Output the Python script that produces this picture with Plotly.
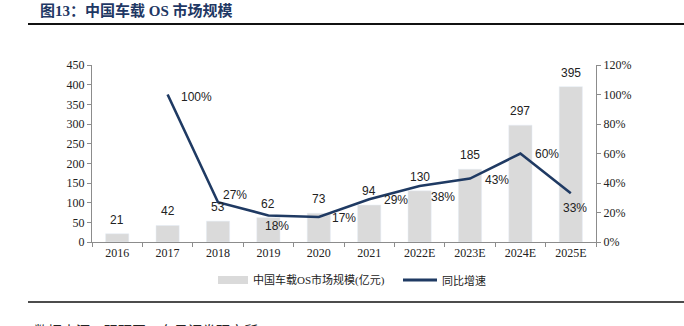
import plotly.graph_objects as go

# 中国车载OS市场规模 (亿元) 与同比增速
years = ["2016", "2017", "2018", "2019", "2020", "2021", "2022E", "2023E", "2024E", "2025E"]
market_size = [21, 42, 53, 62, 73, 94, 130, 185, 297, 395]
growth_years = ["2017", "2018", "2019", "2020", "2021", "2022E", "2023E", "2024E", "2025E"]
growth_pct = [100, 27, 18, 17, 29, 38, 43, 60, 33]
left_ticks = [0, 50, 100, 150, 200, 250, 300, 350, 400, 450]
right_ticks = [0, 20, 40, 60, 80, 100, 120]

W, H = 684, 326
ML, MR, MT, MB = 92, 88, 65, 84
PW, PH = W - ML - MR, H - MT - MB

def px(x):
    return (x - ML) / PW

def py(y):
    return (H - MB - y) / PH

NAVY = "#1f3a63"
BAR = "#dadada"
SERIF = "Liberation Serif, Times New Roman, serif"
SANS = "Liberation Sans, Arial, sans-serif"
CJK = "Liberation Serif, Noto Sans CJK SC, serif"

# pixel offsets of each growth label from its point (x right, y up)
label_shift = [(29, -2), (17, 7), (9, -11), (25, -1), (27, -1), (23, -11), (27, -1), (27, 0), (4, -15)]

fig = go.Figure()
fig.add_trace(go.Bar(
    x=years, y=market_size, width=0.46, marker_color=BAR,
    showlegend=False,
))
fig.add_trace(go.Scatter(
    x=growth_years, y=growth_pct, yaxis="y2", mode="lines",
    line=dict(color=NAVY, width=2.6), cliponaxis=False,
    showlegend=False,
))

axis_line = dict(showline=True, linecolor="#8c8c8c", linewidth=1,
                 ticks="outside", ticklen=4, tickcolor="#8c8c8c",
                 showgrid=False, zeroline=False)

fig.update_layout(
    width=W, height=H, margin=dict(l=ML, r=MR, t=MT, b=MB),
    paper_bgcolor="white", plot_bgcolor="white",
    xaxis=dict(type="category", categoryorder="array", categoryarray=years,
               tickson="boundaries",
               tickfont=dict(family=SERIF, size=12, color="#222"), **axis_line),
    yaxis=dict(range=[0, 450], tickvals=left_ticks,
               tickfont=dict(family=SERIF, size=12, color="#222"), **axis_line),
    yaxis2=dict(overlaying="y", side="right", range=[0, 120], tickvals=right_ticks,
                ticktext=[f"{v}%" for v in right_ticks],
                tickfont=dict(family=SERIF, size=12, color="#222"), **axis_line),
    bargap=0.5,
)

shapes = [
    # rule under the title
    dict(type="line", xref="paper", yref="paper", x0=px(28), x1=px(684),
         y0=py(24), y1=py(24), line=dict(color="#111", width=2)),
    # rule above the source note
    dict(type="line", xref="paper", yref="paper", x0=px(28), x1=px(684),
         y0=py(302), y1=py(302), line=dict(color="#111", width=1.5)),
    # legend swatches
    dict(type="rect", xref="paper", yref="paper", x0=px(218), x1=px(248),
         y0=py(284), y1=py(276), fillcolor=BAR, line=dict(width=0)),
    dict(type="line", xref="paper", yref="paper", x0=px(403), x1=px(437),
         y0=py(280), y1=py(280), line=dict(color=NAVY, width=3)),
]

annotations = [
    dict(text="<b>图13：中国车载 OS 市场规模</b>", xref="paper", yref="paper",
         x=px(38), y=py(10), xanchor="left", yanchor="middle", showarrow=False,
         font=dict(family=CJK, size=15, color="#1f3864")),
    dict(text="中国车载OS市场规模(亿元)", xref="paper", yref="paper",
         x=px(251), y=py(280), xanchor="left", yanchor="middle", showarrow=False,
         font=dict(family=CJK, size=11, color="#222")),
    dict(text="同比增速", xref="paper", yref="paper",
         x=px(440), y=py(280), xanchor="left", yanchor="middle", showarrow=False,
         font=dict(family=CJK, size=11, color="#222")),
    dict(text="数据来源：观研网，东吴证券研究所", xref="paper", yref="paper",
         x=px(32), y=py(331), xanchor="left", yanchor="middle", showarrow=False,
         font=dict(family=CJK, size=14, color="#222")),
]

# value labels above the bars (category index positions)
for yr, v in zip(years, market_size):
    annotations.append(dict(
        text=str(v), x=years.index(yr), y=v, xref="x", yref="y",
        xanchor="center", yanchor="bottom", yshift=5, showarrow=False,
        font=dict(family=SANS, size=12, color="#222")))

# growth labels beside the line
for yr, v, (dx, dy) in zip(growth_years, growth_pct, label_shift):
    annotations.append(dict(
        text=f"{v}%", x=years.index(yr), y=v, xref="x", yref="y2",
        xanchor="center", yanchor="middle", xshift=dx, yshift=dy, showarrow=False,
        font=dict(family=SANS, size=12, color="#222")))

fig.update_layout(shapes=shapes, annotations=annotations)
fig.write_html("out.html")
